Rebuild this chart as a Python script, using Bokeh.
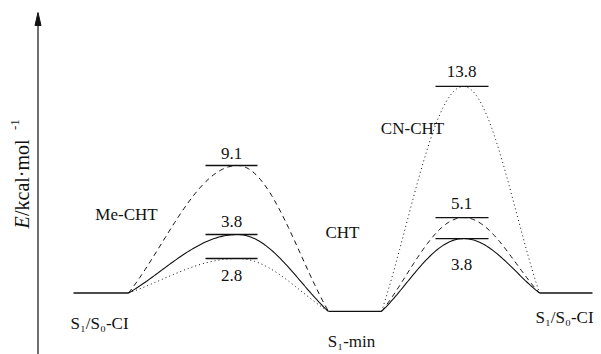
import numpy as np
from bokeh.plotting import figure
from bokeh.models import Range1d
from bokeh.core.properties import value
from bokeh.embed import file_html
from bokeh.resources import INLINE

# ---------------- data ----------------
species = ["CHT", "Me-CHT", "CN-CHT"]
barrier_ts1 = [3.8, 9.1, 2.8]      # labels of first barrier (left)
barrier_ts2 = [3.8, 5.1, 13.8]     # labels of second barrier (right)
drawn_ts1 = [3.9, 8.5, 2.3]        # drawn heights of left barriers (schematic)
drawn_ts2 = [3.63, 5.03, 13.77]    # drawn heights of right barriers (schematic)
ci_level = 0.0
s1min_level = -1.23
point_labels = ["S\u2081/S\u2080-CI", "S\u2081-min", "S\u2081/S\u2080-CI"]

# ---------------- layout ----------------
BASE_PX = 292.5
PX_PER_UNIT = 15.0
def Y(px):
    return (BASE_PX - px) / PX_PER_UNIT

FONT = value("'Liberation Serif', 'Times New Roman', serif")
FS = "17px"
INK = "#111111"

dashes = ["solid", "5 4", "1 3"]
widths = [1.1, 1.0, 1.0]
label_off1 = [13, 12.5, -17]       # px above (+) / below (-) level line
label_off2 = [-25.5, 14.5, 14.5]

x_ci1 = (73, 128)
x_ts1 = 237
x_min = (328, 381)
x_ts2 = 463
x_ci2 = (539, 592)
lvl1 = (205, 257)
lvl2 = (435, 488)

p = figure(width=601, height=354, x_range=Range1d(0, 601),
           y_range=Range1d(Y(354), Y(0)), output_backend="svg",
           toolbar_location=None, min_border=0,
           x_axis_location=None, y_axis_location=None)
p.grid.visible = False
p.outline_line_color = None
p.background_fill_color = "white"

# energy axis with arrow
p.line([37.5, 37.5], [Y(354), Y(22)], line_color=INK, line_width=1.2)
p.patch([34.5, 37.5, 40.5], [Y(25), Y(12), Y(25)], fill_color=INK, line_color=INK)

# axis title: E (italic) / kcal·mol^-1 (rotated)
E_ANCHOR = 228
p.text([21], [Y(E_ANCHOR)], text=["E"], angle=np.pi / 2, text_font=FONT,
       text_font_size="20px", text_font_style="italic", text_align="left",
       text_baseline="middle", text_color=INK)
p.text([21], [Y(E_ANCHOR - 12.5)], text=["/kcal\u00b7mol"], angle=np.pi / 2,
       text_font=FONT, text_font_size="20px", text_align="left",
       text_baseline="middle", text_color=INK)
p.text([14.5], [Y(E_ANCHOR - 12.5 - 86)], text=["-1"], angle=np.pi / 2,
       text_font=FONT, text_font_size="13px", text_align="left",
       text_baseline="middle", text_color=INK)

# stationary-point plateaus
for (xa, xb), lv in [(x_ci1, ci_level), (x_min, s1min_level), (x_ci2, ci_level)]:
    p.line([xa, xb], [lv, lv], line_color=INK, line_width=1.3)

Q = 0.7
def half(x0, y0, x1, y1, rising, n=60):
    s = np.linspace(0, 1, n)
    k = np.pi / (2 * Q)
    if rising:   # from base (x0,y0) to apex (x1,y1)
        u = 1 - s
        f = (1 - np.cos(k * u)) / (1 - np.cos(k))
        return x0 + (x1 - x0) * s, y1 + (y0 - y1) * f
    else:        # from apex (x0,y0) to base (x1,y1)
        f = (1 - np.cos(k * s)) / (1 - np.cos(k))
        return x0 + (x1 - x0) * s, y0 + (y1 - y0) * f

for i, name in enumerate(species):
    h1, h2 = drawn_ts1[i], drawn_ts2[i]
    xa, ya = half(x_ci1[1], ci_level, x_ts1, h1, True)
    xb, yb = half(x_ts1, h1, x_min[0], s1min_level, False)
    xc, yc = half(x_min[1], s1min_level, x_ts2, h2, True)
    xd, yd = half(x_ts2, h2, x_ci2[0], ci_level, False)
    xs = np.concatenate([xa, xb[1:]])
    ys = np.concatenate([ya, yb[1:]])
    p.line(xs, ys, line_color=INK, line_width=widths[i], line_dash=dashes[i])
    xs = np.concatenate([xc, xd[1:]])
    ys = np.concatenate([yc, yd[1:]])
    p.line(xs, ys, line_color=INK, line_width=widths[i], line_dash=dashes[i])

    # barrier level lines and values
    p.line(list(lvl1), [h1, h1], line_color=INK, line_width=1.3)
    p.line(list(lvl2), [h2, h2], line_color=INK, line_width=1.3)
    p.text([231], [h1 + label_off1[i] / PX_PER_UNIT], text=[f"{barrier_ts1[i]:.1f}"],
           text_font=FONT, text_font_size=FS, text_align="center",
           text_baseline="middle", text_color=INK)
    p.text([461], [h2 + label_off2[i] / PX_PER_UNIT], text=[f"{barrier_ts2[i]:.1f}"],
           text_font=FONT, text_font_size=FS, text_align="center",
           text_baseline="middle", text_color=INK)

# species names
name_pos = {"CHT": (342, 232), "Me-CHT": (126, 214), "CN-CHT": (412, 128)}
for name in species:
    x, ypx = name_pos[name]
    p.text([x], [Y(ypx)], text=[name], text_font=FONT, text_font_size=FS,
           text_align="center", text_baseline="middle", text_color=INK)

# stationary point names
pt_pos = [(99, 323), (351, 341), (564, 317)]
for lab, (x, ypx) in zip(point_labels, pt_pos):
    p.text([x], [Y(ypx)], text=[lab], text_font=FONT, text_font_size=FS,
           text_align="center", text_baseline="middle", text_color=INK)

open("out.html", "w").write(file_html(p, INLINE))
